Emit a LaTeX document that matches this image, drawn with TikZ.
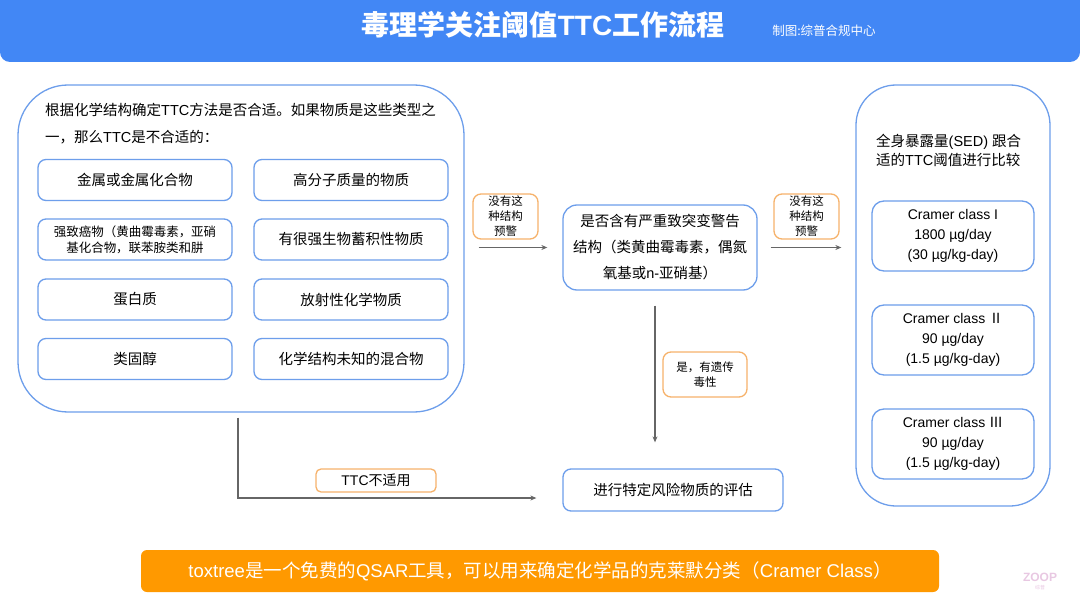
\documentclass[tikz,border=0pt]{standalone}
\usepackage{fontspec}
\setmainfont{Noto Sans CJK SC}
\newfontfamily\lat{Liberation Sans}
\newfontfamily\cjkf{Noto Sans CJK SC}
\usetikzlibrary{arrows.meta}
\definecolor{titleblue}{RGB}{66,135,245}
\definecolor{boxblue}{RGB}{109,158,235}
\definecolor{lblorange}{RGB}{246,178,107}
\definecolor{bannerorange}{RGB}{255,153,0}
\definecolor{arrgrey}{RGB}{102,102,102}
\definecolor{wmark}{RGB}{232,200,226}
\tikzset{
  bluebox/.style={draw=boxblue, line width=1.3, rounded corners=8, fill=white, inner sep=0, align=center},
  orangebox/.style={draw=lblorange, line width=1.3, rounded corners=8, fill=white, inner sep=0, align=center},
  itembox/.style={bluebox, minimum width=194, minimum height=41, font=\fontsize{14.5}{18}\selectfont},
  cramerbox/.style={bluebox, rounded corners=12, minimum width=162, minimum height=70, font=\lat\fontsize{14}{20}\selectfont},
  lbltext/.style={orangebox, font=\fontsize{11.5}{15}\selectfont},
  arr/.style={draw=arrgrey, line width=1.1, -{Stealth[length=6,width=5]}},
}
\begin{document}
\begin{tikzpicture}[x=1pt,y=-1pt]
\useasboundingbox (0,0) rectangle (1080,607);
% title bar
\node[fill=titleblue, rounded corners=10, minimum width=1080, minimum height=82, inner sep=0] (bar) at (540,21) {};
\node[text=white, font=\bfseries\fontsize{28}{32}\selectfont, inner sep=0] (title) at (543,25) {毒理学关注阈值{\lat\bfseries TTC}工作流程};
\node[text=white, font=\fontsize{12.5}{14}\selectfont, inner sep=0] (sub) at (824,31) {制图:综普合规中心};

% left big box
\node[bluebox, rounded corners=50, minimum width=446, minimum height=327] (L) at (241,248.5) {};
\node[anchor=west, align=left, inner sep=0, font=\fontsize{14.5}{27}\selectfont] (hdr) at (45,123.5)
  {根据化学结构确定{\lat TTC}方法是否合适。如果物质是这些类型之\\一，那么{\lat TTC}是不合适的：};
\node[itembox] (i1) at (135,180) {金属或金属化合物};
\node[itembox] (i2) at (351,180) {高分子质量的物质};
\node[itembox, font=\fontsize{12.5}{16}\selectfont] (i3) at (135,239.5) {强致癌物（黄曲霉毒素，亚硝\\基化合物，联苯胺类和肼};
\node[itembox] (i4) at (351,239.5) {有很强生物蓄积性物质};
\node[itembox] (i5) at (135,299.5) {蛋白质};
\node[itembox] (i6) at (351,299.5) {放射性化学物质};
\node[itembox] (i7) at (135,359) {类固醇};
\node[itembox] (i8) at (351,359) {化学结构未知的混合物};

% middle box
\node[bluebox, rounded corners=14, minimum width=194, minimum height=85, font=\fontsize{14.5}{26}\selectfont] (M) at (660,247.5)
  {是否含有严重致突变警告\\结构（类黄曲霉毒素，偶氮\\氧基或{\lat n-}亚硝基）};

% right big box
\node[bluebox, rounded corners=40, minimum width=194, minimum height=421] (R) at (953,295.5) {};
\node[anchor=west, align=left, inner sep=0, font=\fontsize{14.5}{19.5}\selectfont] (rhdr) at (876,150.5)
  {全身暴露量{\lat (SED) }跟合\\适的{\lat TTC}阈值进行比较};
\node[cramerbox] (c1) at (953,236) {Cramer class I\\1800 µg/day\\(30 µg/kg-day)};
\node[cramerbox] (c2) at (953,340) {Cramer class {\cjkf Ⅱ}\\90 µg/day\\(1.5 µg/kg-day)};
\node[cramerbox] (c3) at (953,444) {Cramer class {\cjkf Ⅲ}\\90 µg/day\\(1.5 µg/kg-day)};

% bottom box
\node[bluebox, minimum width=220, minimum height=42, font=\fontsize{14.5}{18}\selectfont] (B) at (673,490) {进行特定风险物质的评估};

% connectors
\draw[arr, shorten <=14, shorten >=15] (L.east |- M.west) -- (M.west);
\draw[arr, shorten <=13, shorten >=14] (M.east) -- (M.east -| R.west);
\draw[arr, shorten <=15, shorten >=26] ([xshift=-5]M.south) -- ([xshift=-5]M.south |- B.north);
\draw[arr, shorten <=5, shorten >=26] ([xshift=-3]L.south) |- ([yshift=-8]B.west);

% labels
\node[lbltext, minimum width=65, minimum height=45] (o1) at (505.5,216.5) {没有这\\种结构\\预警};
\node[lbltext, minimum width=65, minimum height=45] (o2) at (806.5,216.5) {没有这\\种结构\\预警};
\node[lbltext, minimum width=84, minimum height=45] (o3) at (705,374.5) {是，有遗传\\毒性};
\node[orangebox, rounded corners=5, minimum width=120, minimum height=23, font=\fontsize{14}{16}\selectfont] (o4) at (376,480.5) {{\lat TTC}不适用};

% banner
\node[fill=bannerorange, rounded corners=6, minimum width=798, minimum height=42, inner sep=0, text=white, font=\fontsize{18.5}{22}\selectfont] (ban) at (540,571)
  {{\lat toxtree}是一个免费的{\lat QSAR}工具，可以用来确定化学品的克莱默分类（{\lat Cramer Class}）};

% watermark
\node[text=wmark, font=\lat\bfseries\fontsize{12}{12}\selectfont, inner sep=0] (zoop) at (1040,577) {ZOOP};
\node[text=wmark, font=\fontsize{5}{5}\selectfont, inner sep=0] (zoopcn) at (1040,588) {综普};
\end{tikzpicture}
\end{document}
